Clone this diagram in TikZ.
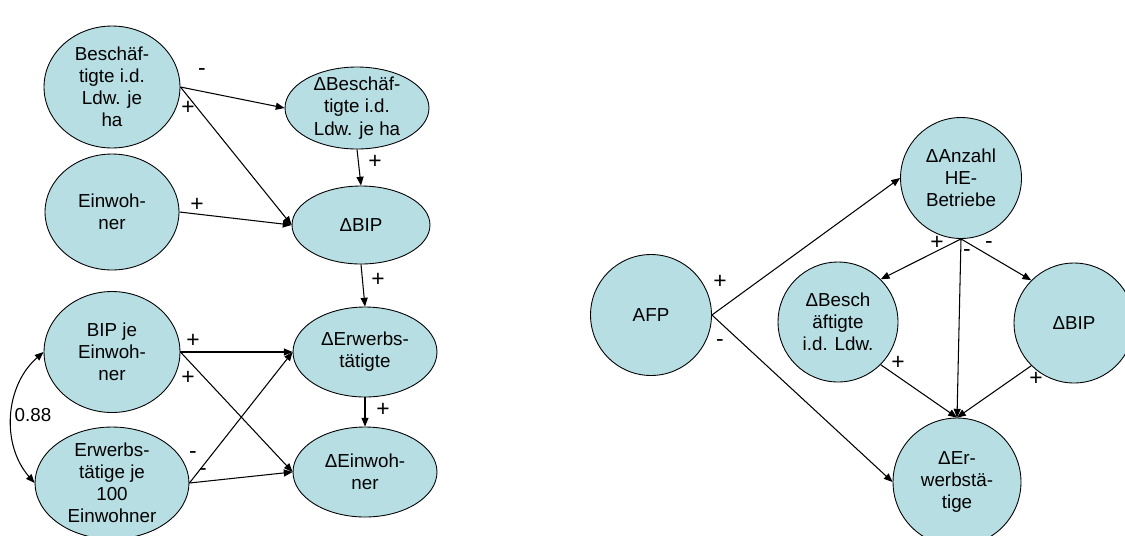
\documentclass[tikz,border=0pt]{standalone}
\usepackage{fontspec}
\setmainfont{Liberation Sans}
\usepackage{tikz}
\usepackage{xcolor}
\usetikzlibrary{shapes.geometric,arrows.meta}

\definecolor{nodefill}{RGB}{183,222,227}

\tikzset{
    var/.style={ellipse, draw=black, fill=nodefill, line width=0.5pt, inner sep=-2pt,
        align=center, font=\fontsize{10.7}{12.6}\selectfont},
    arr/.style={-{Triangle[length=5pt,width=4pt]}, line width=0.6pt},
    lbl/.style={font=\fontsize{13}{14}\selectfont, inner sep=0pt}
}

\begin{document}
\begin{tikzpicture}[x=0.02cm, y=-0.02cm]
\useasboundingbox (0,0) rectangle (1125,535);

% Panel A: Kreisebene
\begin{scope}
    \node[var, minimum width=2.72cm, minimum height=2.44cm] (besch) at (112,87) {Beschäf-\\tigte i.d.\\Ldw. je\\ha};
    \node[var, minimum width=2.68cm, minimum height=2.32cm] (einw) at (112,212) {Einwoh-\\ner};
    \node[var, minimum width=2.72cm, minimum height=2.42cm] (bipje) at (112,352) {BIP je\\Einwoh-\\ner};
    \node[var, minimum width=3.08cm, minimum height=2.24cm] (erwje) at (112,483) {Erwerbs-\\tätige je\\100\\Einwohner};

    \node[var, minimum width=2.88cm, minimum height=1.64cm] (dbesch) at (357,108) {ΔBeschäf-\\tigte i.d.\\Ldw. je ha};
    \node[var, minimum width=2.76cm, minimum height=1.56cm] (dbip) at (361,225) {ΔBIP};
    \node[var, minimum width=2.88cm, minimum height=1.80cm] (derw) at (365,352) {ΔErwerbs-\\tätigte};
    \node[var, minimum width=2.88cm, minimum height=1.80cm] (deinw) at (365,472) {ΔEinwoh-\\ner};

    % Pfeile
    \draw[arr] (besch.east) -- (dbesch.west);
    \draw[arr] (besch.east) -- (dbip.west);
    \draw[arr] (einw.east) -- (dbip.west);
    \draw[arr] (dbesch.south) -- (dbip.north);
    \draw[arr] (dbip.south) -- (derw.north);
    \draw[arr] (bipje.east) -- (derw.west);
    \draw[arr] (bipje.east) -- (deinw.west);
    \draw[arr] (erwje.east) -- (derw.west);
    \draw[arr] (erwje.east) -- (deinw.west);
    \draw[arr] (derw.south) -- (deinw.north);

    % Korrelation
    \draw[{Triangle[length=5pt,width=4pt]}-{Triangle[length=5pt,width=4pt]}, line width=0.6pt]
        (bipje.west) to[bend right=45] (erwje.west);
    \node[var, draw=none, fill=none, inner sep=0pt] (r1) at (33,415) {0.88};

    % Vorzeichen
    \node[lbl] (s1) at (202,72) {-};
    \node[lbl] (s2) at (188,108) {+};
    \node[lbl] (s3) at (197,205) {+};
    \node[lbl] (s4) at (375,162) {+};
    \node[lbl] (s5) at (378,280) {+};
    \node[lbl] (s6) at (193,341) {+};
    \node[lbl] (s7) at (188,378) {+};
    \node[lbl] (s8) at (193,455) {-};
    \node[lbl] (s9) at (203,472) {-};
    \node[lbl] (s10) at (383,410) {+};
\end{scope}

% Panel B: AFP-Wirkungen
\begin{scope}
    \node[var, circle, minimum size=2.42cm] (afp) at (651,315) {AFP};
    \node[var, circle, minimum size=2.42cm] (danz) at (961,178) {ΔAnzahl\\HE-\\Betriebe};
    \node[var, circle, minimum size=2.40cm] (dbesch2) at (838,322) {ΔBesch\\äftigte\\i.d. Ldw.};
    \node[var, circle, minimum size=2.40cm] (dbip2) at (1074,323) {ΔBIP};
    \node[var, circle, minimum size=2.56cm] (derw2) at (957,482) {ΔEr-\\werbstä-\\tige};

    % Pfeile
    \draw[arr] (afp.east) -- (danz.west);
    \draw[arr] (afp.east) -- (derw2.west);
    \draw[arr] (danz.south) -- (dbesch2.north east);
    \draw[arr] (danz.south) -- (dbip2.north west);
    \draw[arr] (danz.south) -- (derw2.north);
    \draw[arr] (dbesch2.south east) -- (derw2.north);
    \draw[arr] (dbip2.south west) -- (derw2.north);

    % Vorzeichen
    \node[lbl] (t1) at (720,282) {+};
    \node[lbl] (t2) at (720,343) {-};
    \node[lbl] (t3) at (937,243) {+};
    \node[lbl] (t4) at (967,253) {-};
    \node[lbl] (t5) at (989,245) {-};
    \node[lbl] (t6) at (898,363) {+};
    \node[lbl] (t7) at (1036,379) {+};
\end{scope}
\end{tikzpicture}
\end{document}
